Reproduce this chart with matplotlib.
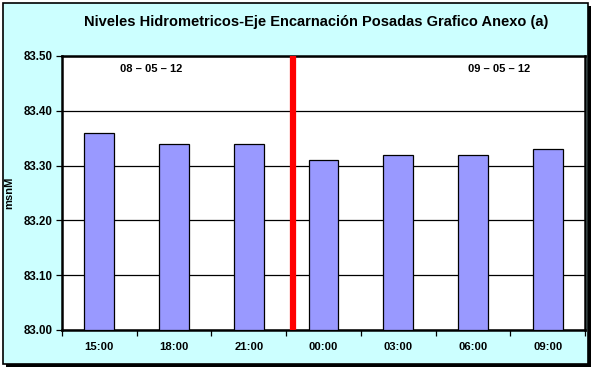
import matplotlib
matplotlib.use("Agg")
import matplotlib.pyplot as plt
from matplotlib.patches import Rectangle
import numpy as np

categories = ["15:00", "18:00", "21:00", "00:00", "03:00", "06:00", "09:00"]
values = [83.36, 83.34, 83.34, 83.31, 83.32, 83.32, 83.33]
yticks = [83.00, 83.10, 83.20, 83.30, 83.40, 83.50]
date_labels = ["08 – 05 – 12", "09 – 05 – 12"]
date_positions = [0.276, 4.93]
divider_pos = 2.59

W, H = 595, 369
fig = plt.figure(figsize=(W/100, H/100), dpi=100)
fig.patch.set_facecolor("white")
# outer frame with shadow
fig.patches.append(Rectangle((6/W, 2/H), 585/W, 361/H, transform=fig.transFigure,
                             facecolor="black", edgecolor="none", zorder=-3))
fig.patches.append(Rectangle((3/W, 5/H), 585/W, 361/H, transform=fig.transFigure,
                             facecolor="#CCFFFF", edgecolor="black", linewidth=1.2, zorder=-2))

ax = fig.add_axes([62/W, (H-330)/H, (585-62)/W, (330-56)/H])
ax.set_zorder(1)
ax.set_facecolor("white")
x = np.arange(len(categories))
ax.bar(x, [v - 83.0 for v in values], bottom=83.0, width=0.4, color="#9999FF",
       edgecolor="black", linewidth=0.9, zorder=3)
ax.set_xlim(-0.5, len(categories) - 0.5)
ax.set_ylim(83.0, 83.5)
ax.set_yticks(yticks)
ax.set_yticklabels([f"{t:.2f}" for t in yticks], fontsize=8.3, fontweight="bold",
                   family="Liberation Sans")
ax.yaxis.grid(True, color="black", linewidth=0.9)
ax.set_axisbelow(True)
ax.set_xticks(x)
ax.set_xticklabels(categories, fontsize=8.1, fontweight="bold", family="Liberation Sans")
ax.set_xticks(np.arange(-0.5, len(categories)), minor=True)
ax.tick_params(axis="x", which="major", length=0, pad=9)
ax.tick_params(axis="x", which="minor", length=4, width=0.9, direction="out")
ax.tick_params(axis="y", length=4, width=0.9, direction="out", pad=3)
for s in ax.spines.values():
    s.set_linewidth(1.8)
ax.set_ylabel("msnM", fontsize=8, fontweight="bold", family="Liberation Sans")
ax.yaxis.set_label_coords(-0.092, 0.5)

ax.axvline(divider_pos, color="#FF0000", linewidth=4.5, zorder=4)
for lbl, pos in zip(date_labels, date_positions):
    ax.text(pos, 83.476, lbl, fontsize=8, fontweight="bold",
            family="Liberation Sans", ha="left", va="center")

fig.text(316/W, 1 - 22/H, "Niveles Hidrometricos-Eje Encarnación Posadas Grafico Anexo (a)",
         fontsize=10.5, fontweight="bold", family="Liberation Sans", ha="center", va="center")

fig.savefig("out.png", dpi=100, facecolor=fig.get_facecolor())
